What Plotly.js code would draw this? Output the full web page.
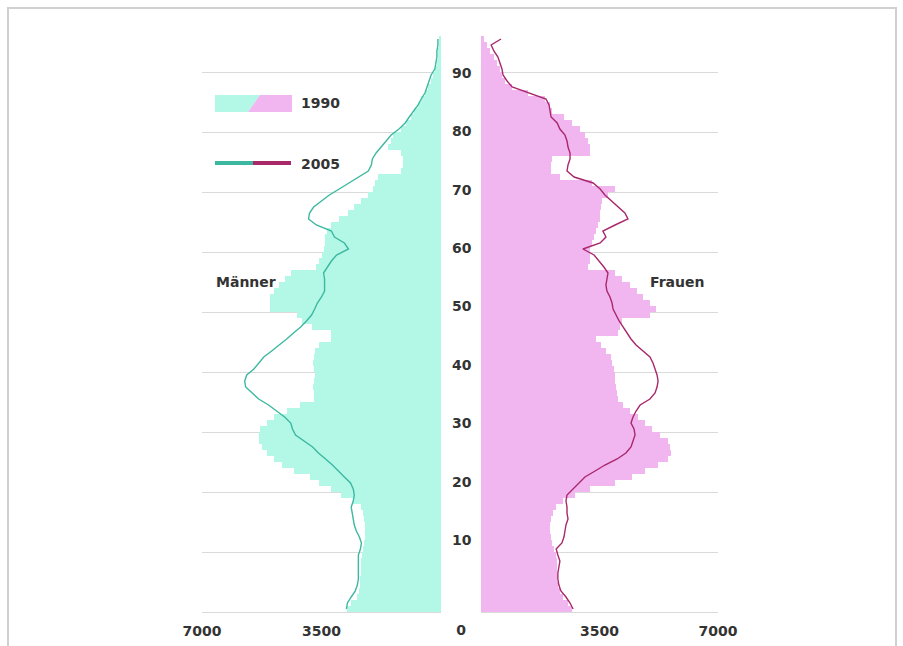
<!DOCTYPE html>
<html>
<head>
<meta charset="utf-8">
<script src="https://cdn.plot.ly/plotly-3.0.1.min.js"></script>
<style>
html,body{margin:0;padding:0;background:#fff;overflow:hidden;}
#wrap{position:relative;width:903px;height:646px;}
#chart{width:903px;height:646px;}
#frame{position:absolute;left:7px;top:7px;width:886px;height:700px;border:2px solid #d0d0d0;pointer-events:none;}
</style>
</head>
<body>
<div id="wrap"><div id="chart"></div><div id="frame"></div></div>
<script>
// Age (single years, 0..95)
const ages = [0,1,2,3,4,5,6,7,8,9,10,11,12,13,14,15,16,17,18,19,20,21,22,23,24,25,26,27,28,29,
  30,31,32,33,34,35,36,37,38,39,40,41,42,43,44,45,46,47,48,49,50,51,52,53,54,55,56,57,58,59,
  60,61,62,63,64,65,66,67,68,69,70,71,72,73,74,75,76,77,78,79,80,81,82,83,84,85,86,87,88,89,
  90,91,92,93,94,95];

// Männer
const male1990 = [2740,2630,2450,2390,2360,2360,2330,2330,2330,2300,
  2280,2250,2220,2220,2220,2250,2280,2330,2570,2920,
  3210,3560,3850,4320,4670,4900,5100,5250,5340,5340,
  5310,5100,4900,4520,4140,3730,3730,3760,3730,3700,
  3730,3760,3730,3700,3560,3210,3210,3790,4080,4230,
  5020,5020,5020,4900,4750,4580,4380,3650,3560,3500,
  3440,3410,3410,3350,3210,2980,2710,2540,2330,2130,
  1980,1930,1840,1170,1110,1110,1170,1550,1460,1400,
  1170,1020,880,790,670,580,470,380,290,230,
  180,120,90,90,60,60];
const male2005 = [2770,2740,2630,2510,2450,2420,2420,2420,2420,2420,
  2360,2330,2390,2480,2540,2570,2600,2630,2570,2540,
  2570,2650,2830,3000,3180,3380,3590,3760,4000,4260,
  4350,4400,4580,4810,5050,5340,5540,5720,5750,5690,
  5480,5340,5190,4960,4730,4520,4320,4110,3940,3790,
  3700,3620,3500,3410,3410,3410,3440,3330,3210,3060,
  2710,2830,3120,3210,3650,3880,3850,3730,3500,3270,
  2980,2710,2420,2130,2040,2010,1900,1750,1600,1460,
  1230,1050,930,790,670,580,470,410,350,290,
  180,150,120,120,90,90];

// Frauen
const female1990 = [2690,2570,2420,2330,2270,2250,2250,2250,2250,2220,
  2160,2100,2070,2040,2040,2070,2130,2220,2420,2780,
  3220,3960,4460,4840,5230,5520,5610,5580,5520,5290,
  5050,4840,4640,4400,4190,4050,4020,3990,3960,3960,
  3930,3870,3840,3690,3540,3400,4050,4110,4170,4990,
  5170,4990,4790,4610,4400,4170,3960,3160,3220,3220,
  3220,3280,3340,3400,3460,3520,3520,3540,3570,3750,
  3960,3280,2330,2070,2070,2100,3220,3220,3160,3070,
  2920,2690,2450,2100,2040,1890,1390,920,710,620,
  560,470,380,270,180,90];
const female2005 = [2720,2630,2510,2360,2300,2270,2270,2300,2330,2270,
  2220,2390,2450,2480,2510,2570,2540,2540,2510,2540,
  2720,2920,3070,3370,3660,4020,4280,4430,4490,4550,
  4520,4430,4490,4580,4700,4990,5140,5200,5230,5200,
  5140,5080,4990,4790,4580,4430,4310,4190,4080,3990,
  3900,3870,3810,3720,3690,3720,3750,3630,3490,3340,
  3010,3520,3690,3600,3960,4340,4250,4050,3870,3660,
  3520,3310,2750,2540,2570,2630,2630,2570,2540,2480,
  2330,2250,2070,2040,2010,1920,1450,920,770,650,
  620,560,500,380,300,590];

// Tick labels
const gridAges = [10,20,30,40,50,60,70,80,90];
const ageLabels = ['10','20','30','40','50','60','70','80','90'];
const xTickVals = [3500,7000];
const xTickText = ['3500','7000'];
const centerTickVals = [0];
const centerTickText = ['0'];
const seriesNames = ['1990','2005'];
const sideNames = ['Männer','Frauen'];

const C = {
  maleFill:'#b3f7e7', maleLine:'#3cb8a0',
  femFill:'#f1b5ef', femLine:'#a8286a',
  grid:'#dadada', text:'#333333'
};
const FONT = 'DejaVu Sans, Verdana, sans-serif';
const tfont = {family:FONT, size:14, color:C.text, weight:'bold'};

const mid = ages.map(a => a + 0.5);

const traces = [
  {type:'bar', orientation:'h', x:male1990, y:ages, width:1, offset:0,
   xaxis:'x', yaxis:'y', marker:{color:C.maleFill, line:{width:0}}, hoverinfo:'skip', name:seriesNames[0]},
  {type:'bar', orientation:'h', x:female1990, y:ages, width:1, offset:0,
   xaxis:'x2', yaxis:'y', marker:{color:C.femFill, line:{width:0}}, hoverinfo:'skip', name:seriesNames[0]},
  {type:'scatter', mode:'lines', x:male2005, y:mid, xaxis:'x', yaxis:'y',
   line:{color:C.maleLine, width:1.4}, hoverinfo:'skip', name:seriesNames[1]},
  {type:'scatter', mode:'lines', x:female2005, y:mid, xaxis:'x2', yaxis:'y',
   line:{color:C.femLine, width:1.4}, hoverinfo:'skip', name:seriesNames[1]},
  {type:'scatter', mode:'markers', x:[0], y:[0], xaxis:'x3', yaxis:'y3',
   marker:{opacity:0}, hoverinfo:'skip', showlegend:false},
  {type:'scatter', mode:'markers', x:[0], y:[0], xaxis:'x4', yaxis:'y4',
   marker:{opacity:0}, hoverinfo:'skip', showlegend:false}
];

const PL = 202, PR = 718, PT = 36, PB = 612;
const px = v => (v - PL) / (PR - PL);
const py = v => (PB - v) / (PB - PT);
const dLeftEnd = px(441), dRightStart = px(481);

const xCommon = {showgrid:false, zeroline:false, showline:true, linecolor:C.grid, linewidth:1,
  ticks:'', tickfont:tfont, ticklabelstandoff:6, fixedrange:true};

const layout = {
  width:903, height:646,
  margin:{l:PL, r:903-PR, t:PT, b:646-PB, pad:0},
  paper_bgcolor:'#ffffff', plot_bgcolor:'rgba(0,0,0,0)',
  showlegend:false, bargap:0, barmode:'overlay',
  xaxis:Object.assign({}, xCommon, {domain:[0,dLeftEnd], range:[7000,0], anchor:'y',
    tickvals:xTickVals, ticktext:xTickText}),
  xaxis2:Object.assign({}, xCommon, {domain:[dRightStart,1], range:[0,7000], anchor:'y',
    tickvals:xTickVals, ticktext:xTickText}),
  xaxis3:Object.assign({}, xCommon, {domain:[dLeftEnd,dRightStart], range:[-1,1], anchor:'y3',
    showline:false, showticklabels:false}),
  xaxis4:Object.assign({}, xCommon, {domain:[dLeftEnd,dRightStart], range:[-1,1], anchor:'y4',
    showline:false, ticklabelstandoff:8, tickvals:centerTickVals, ticktext:centerTickText}),
  yaxis:{range:[0,96], tickvals:gridAges, showticklabels:false, showgrid:true,
    gridcolor:C.grid, gridwidth:1, zeroline:false, showline:false, ticks:'', fixedrange:true},
  yaxis3:{range:[-2.3,96.3], anchor:'x3', side:'left', tickvals:gridAges, ticktext:ageLabels,
    ticklabelposition:'inside', ticklabelstandoff:8, showgrid:false, zeroline:false,
    showline:false, ticks:'', tickfont:tfont, fixedrange:true},
  yaxis4:{range:[0,96], anchor:'x4', showgrid:false, zeroline:false, showline:false,
    showticklabels:false, ticks:'', fixedrange:true},
  shapes:[
    {type:'path', xref:'paper', yref:'paper', layer:'above', line:{width:0}, fillcolor:C.maleFill,
     path:`M ${px(215)},${py(95)} L ${px(260)},${py(95)} L ${px(248)},${py(112)} L ${px(215)},${py(112)} Z`},
    {type:'path', xref:'paper', yref:'paper', layer:'above', line:{width:0}, fillcolor:C.femFill,
     path:`M ${px(260)},${py(95)} L ${px(292)},${py(95)} L ${px(292)},${py(112)} L ${px(248)},${py(112)} Z`},
    {type:'line', xref:'paper', yref:'paper', x0:px(215), x1:px(253), y0:py(163), y1:py(163),
     line:{color:C.maleLine, width:4}},
    {type:'line', xref:'paper', yref:'paper', x0:px(253), x1:px(291), y0:py(163), y1:py(163),
     line:{color:C.femLine, width:4}}
  ],
  annotations:[
    {xref:'paper', yref:'paper', x:px(299), y:py(103), xanchor:'left', yanchor:'middle',
     text:seriesNames[0], showarrow:false, font:tfont},
    {xref:'paper', yref:'paper', x:px(299), y:py(164), xanchor:'left', yanchor:'middle',
     text:seriesNames[1], showarrow:false, font:tfont},
    {xref:'paper', yref:'paper', x:px(246), y:py(282), xanchor:'center', yanchor:'middle',
     text:sideNames[0], showarrow:false, font:tfont},
    {xref:'paper', yref:'paper', x:px(677), y:py(282), xanchor:'center', yanchor:'middle',
     text:sideNames[1], showarrow:false, font:tfont}
  ]
};

Plotly.newPlot('chart', traces, layout, {displayModeBar:false, staticPlot:true});
</script>
</body>
</html>
